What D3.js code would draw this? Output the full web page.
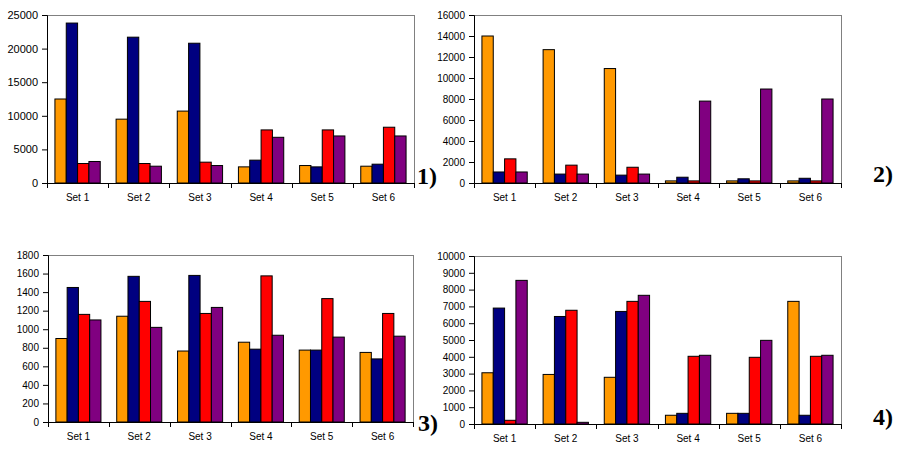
<!DOCTYPE html>
<html>
<head>
<meta charset="utf-8">
<script src="https://cdn.jsdelivr.net/npm/d3@7"></script>
<style>
  html, body { margin: 0; padding: 0; background: #ffffff; }
  svg { display: block; }
</style>
</head>
<body>
<svg id="chart" width="904" height="453"></svg>
<script>
// ---- data ----
const categories = ["Set 1", "Set 2", "Set 3", "Set 4", "Set 5", "Set 6"];
const seriesNames = ["A", "B", "C", "D"];
const seriesColors = ["#FF9900", "#000080", "#FF0000", "#800080"];

// Chart 1)
const chart1A = [12500, 9500, 10700, 2400, 2600, 2500];
const chart1B = [23800, 21700, 20800, 3400, 2400, 2800];
const chart1C = [2900, 2900, 3100, 7900, 7900, 8300];
const chart1D = [3200, 2500, 2600, 6800, 7000, 7000];
const chart1Ticks = [0, 5000, 10000, 15000, 20000, 25000];

// Chart 2)
const chart2A = [14000, 12700, 10900, 200, 200, 200];
const chart2B = [1050, 850, 750, 550, 400, 450];
const chart2C = [2300, 1700, 1500, 200, 200, 200];
const chart2D = [1050, 850, 850, 7800, 8950, 8000];
const chart2Ticks = [0, 2000, 4000, 6000, 8000, 10000, 12000, 14000, 16000];

// Chart 3)
const chart3A = [900, 1140, 765, 860, 775, 750];
const chart3B = [1450, 1570, 1580, 785, 775, 680];
const chart3C = [1160, 1300, 1170, 1575, 1330, 1170];
const chart3D = [1100, 1020, 1235, 935, 915, 925];
const chart3Ticks = [0, 200, 400, 600, 800, 1000, 1200, 1400, 1600, 1800];

// Chart 4)
const chart4A = [3050, 2950, 2780, 520, 635, 7300];
const chart4B = [6900, 6400, 6700, 635, 635, 520];
const chart4C = [220, 6770, 7300, 4030, 3970, 4030];
const chart4D = [8550, 100, 7660, 4090, 4980, 4090];
const chart4Ticks = [0, 1000, 2000, 3000, 4000, 5000, 6000, 7000, 8000, 9000, 10000];

const panelLabels = ["1)", "2)", "3)", "4)"];

// ---- layout ----
const panels = [
  { series: [chart1A, chart1B, chart1C, chart1D], ticks: chart1Ticks, label: panelLabels[0],
    left: 47, right: 414, top: 15, bottom: 183, tickFont: 11, labelX: 417, labelY: 184 },
  { series: [chart2A, chart2B, chart2C, chart2D], ticks: chart2Ticks, label: panelLabels[1],
    left: 474, right: 841, top: 15, bottom: 183, tickFont: 10, labelX: 873, labelY: 182 },
  { series: [chart3A, chart3B, chart3C, chart3D], ticks: chart3Ticks, label: panelLabels[2],
    left: 48, right: 413, top: 255, bottom: 422, tickFont: 10, labelX: 418, labelY: 431 },
  { series: [chart4A, chart4B, chart4C, chart4D], ticks: chart4Ticks, label: panelLabels[3],
    left: 474, right: 841, top: 256, bottom: 424, tickFont: 10, labelX: 873, labelY: 425 }
];

const svg = d3.select("#chart");

panels.forEach(p => {
  const g = svg.append("g");
  const x = d3.scaleBand().domain(categories).range([p.left, p.right]).padding(0);
  const xs = d3.scaleBand().domain(seriesNames).range([0, x.bandwidth()])
    .paddingInner(0).paddingOuter(0.7);
  const y = d3.scaleLinear().domain([0, d3.max(p.ticks)]).range([p.bottom, p.top]);

  // gray plot border (top and right)
  g.append("line").attr("x1", p.left).attr("x2", p.right)
    .attr("y1", p.top + 0.5).attr("y2", p.top + 0.5)
    .attr("stroke", "#808080").attr("stroke-width", 1);
  g.append("line").attr("x1", p.right + 0.5).attr("x2", p.right + 0.5)
    .attr("y1", p.top).attr("y2", p.bottom)
    .attr("stroke", "#808080").attr("stroke-width", 1);

  // bars
  seriesNames.forEach((s, si) => {
    g.append("g").selectAll("rect")
      .data(p.series[si])
      .join("rect")
      .attr("x", (d, i) => x(categories[i]) + xs(s))
      .attr("y", d => y(d))
      .attr("width", xs.bandwidth())
      .attr("height", d => y(0) - y(d))
      .attr("fill", seriesColors[si])
      .attr("stroke", "#000000")
      .attr("stroke-width", 1);
  });

  // y axis
  const yAxis = g.append("g")
    .attr("transform", `translate(${p.left},0)`)
    .call(d3.axisLeft(y).tickValues(p.ticks).tickFormat(d3.format("d")).tickSize(5).tickPadding(4));
  yAxis.select(".domain").attr("stroke", "#000");
  yAxis.selectAll("text")
    .attr("font-family", "'Liberation Sans', Arial, sans-serif")
    .attr("font-size", p.tickFont)
    .attr("fill", "#000");

  // x axis: ticks at category boundaries
  const xAxis = g.append("g")
    .attr("transform", `translate(0,${p.bottom})`);
  xAxis.append("line").attr("x1", p.left).attr("x2", p.right + 1)
    .attr("y1", 0.5).attr("y2", 0.5).attr("stroke", "#000");
  const bounds = categories.map(c => x(c)).concat([p.right]);
  xAxis.selectAll("line.tk").data(bounds).join("line").attr("class", "tk")
    .attr("x1", d => Math.round(d) + 0.5).attr("x2", d => Math.round(d) + 0.5)
    .attr("y1", 0).attr("y2", 5).attr("stroke", "#000");
  xAxis.selectAll("text").data(categories).join("text")
    .attr("x", d => x(d) + x.bandwidth() / 2)
    .attr("y", 18)
    .attr("text-anchor", "middle")
    .attr("font-family", "'Liberation Sans', Arial, sans-serif")
    .attr("font-size", 10)
    .attr("fill", "#000")
    .text(d => d);

  // panel label
  svg.append("text")
    .attr("x", p.labelX).attr("y", p.labelY)
    .attr("font-family", "'Liberation Serif', 'Times New Roman', serif")
    .attr("font-weight", "bold")
    .attr("font-size", 24)
    .attr("fill", "#000")
    .text(p.label);
});
</script>
</body>
</html>
